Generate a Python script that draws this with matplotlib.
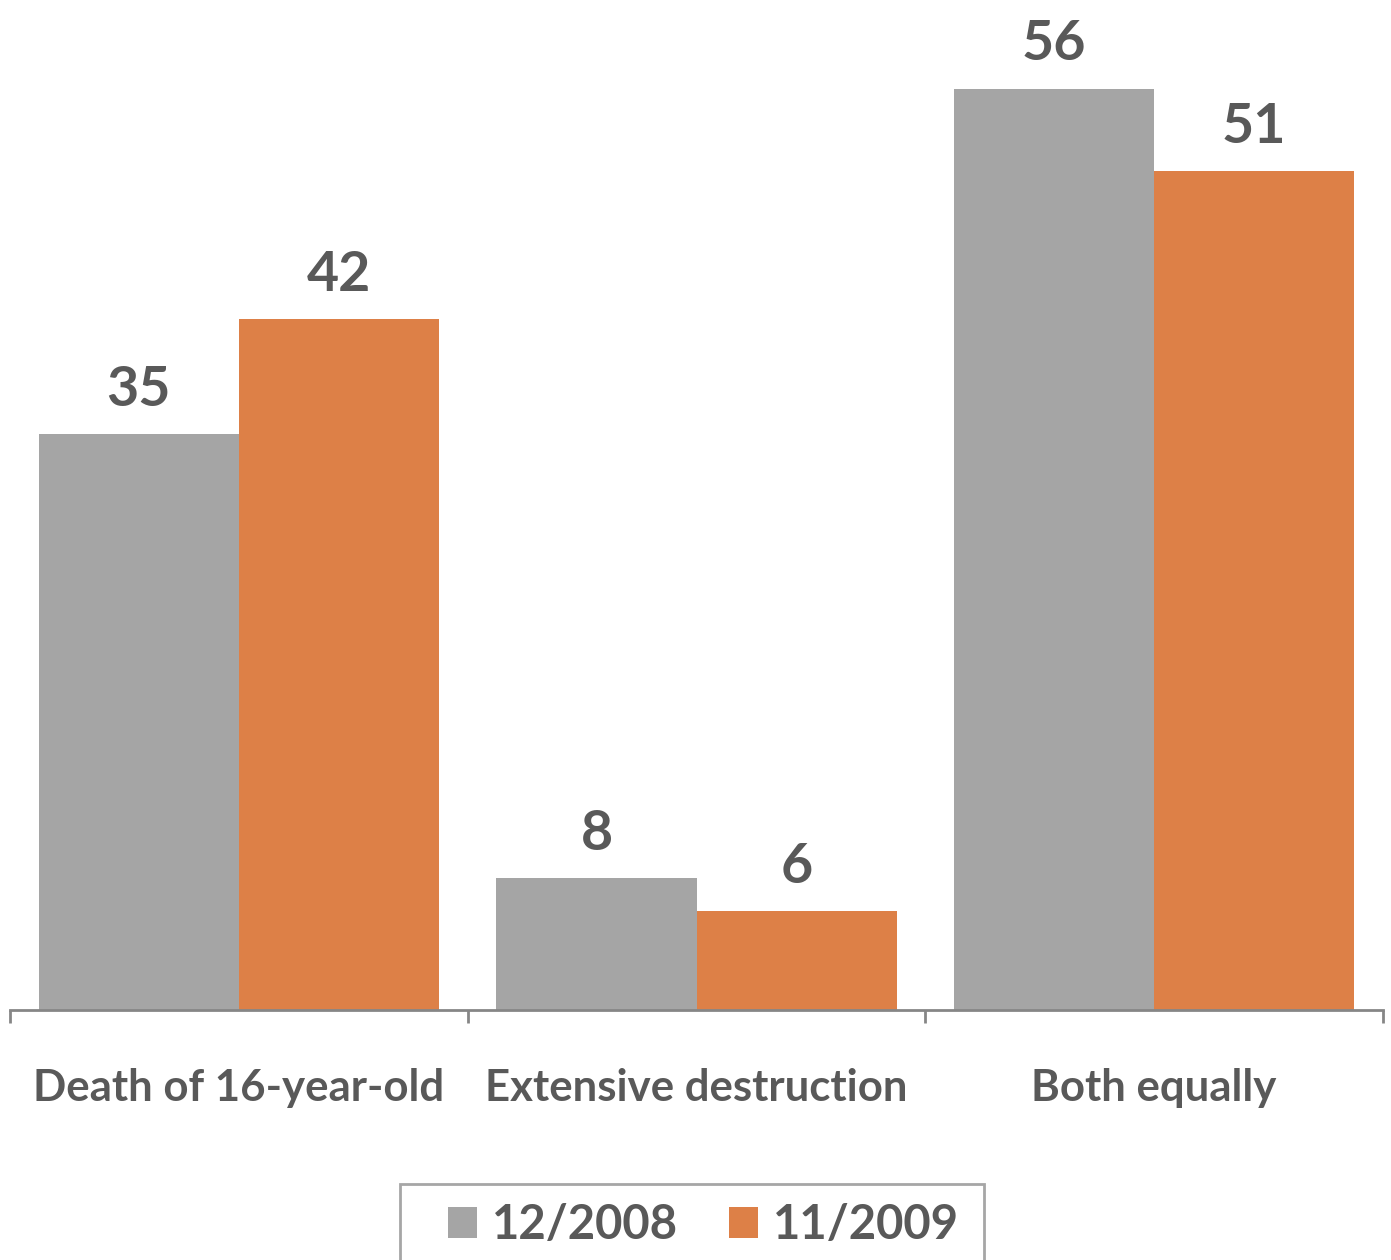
import matplotlib.pyplot as plt
import matplotlib.patches as mpatches
import numpy as np

categories = ["Death of 16-year-old", "Extensive destruction", "Both equally"]
series_names = ["12/2008", "11/2009"]
values_2008 = [35, 8, 56]
values_2009 = [42, 6, 51]

gray = "#A5A5A5"
orange = "#DD8047"
text_color = "#595959"
plt.rcParams['font.family'] = ['Lato', 'DejaVu Sans']

fig = plt.figure(figsize=(13.91, 12.6), dpi=100)
ax = fig.add_axes([10/1391, 1 - 1010/1260, 1373/1391, 987/1260])

x = np.arange(len(categories))
w = 0.437
b1 = ax.bar(x - w/2, values_2008, w, color=gray, label=series_names[0])
b2 = ax.bar(x + w/2, values_2009, w, color=orange, label=series_names[1])

for bars in (b1, b2):
    for rect in bars:
        h = rect.get_height()
        ax.annotate(f"{h:g}", (rect.get_x() + rect.get_width()/2, h),
                    xytext=(0, 14), textcoords="offset points",
                    ha="center", va="bottom", fontsize=40, fontweight="bold",
                    color=text_color)

ax.set_xlim(-0.5, 2.5)
ax.set_ylim(0, 60)
ax.set_yticks([])
for s in ("top", "right", "left"):
    ax.spines[s].set_visible(False)
ax.spines["bottom"].set_color("#868686")
ax.spines["bottom"].set_linewidth(2)

ax.set_xticks(x)
ax.set_xticklabels(categories, fontsize=31.5, fontweight="bold", color=text_color)
ax.tick_params(axis="x", which="major", length=0, pad=42)
ax.set_xticks([-0.5, 0.5, 1.5, 2.5], minor=True)
ax.tick_params(axis="x", which="minor", length=9, width=2, color="#868686", direction="out")

# legend box (cut off by the bottom edge of the picture)
box = mpatches.Rectangle((400/1391, -0.02), 584/1391, 0.02 + 1 - 1184/1260,
                         transform=fig.transFigure, fill=False,
                         edgecolor="#A6A6A6", linewidth=2)
fig.patches.append(box)

leg = fig.legend(loc="center left", bbox_to_anchor=(448/1391, 1 - 1225/1260),
                 ncol=2, frameon=False, fontsize=34,
                 handlelength=0.62, handleheight=0.62, handletextpad=0.32,
                 columnspacing=1.06, borderpad=0, borderaxespad=0)
for t in leg.get_texts():
    t.set_color(text_color)
    t.set_fontweight("bold")

plt.savefig("out.png", dpi=100)
